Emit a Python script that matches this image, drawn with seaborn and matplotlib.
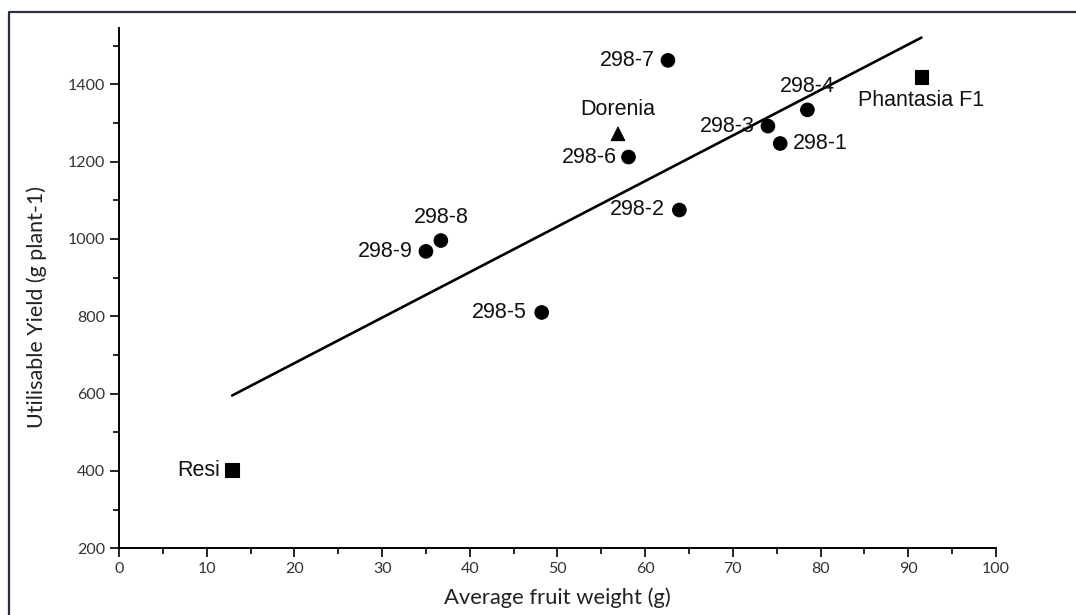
import numpy as np
import pandas as pd
import seaborn as sns
import matplotlib.pyplot as plt
from matplotlib.lines import Line2D

# values
genotypes = ['Resi', 'Phantasia F1', 'Dorenia', '298-1', '298-2', '298-3', '298-4',
             '298-5', '298-6', '298-7', '298-8', '298-9']
fruit_weight = [12.9, 91.5, 56.9, 75.4, 63.9, 74.0, 78.5, 48.2, 58.1, 62.6, 36.7, 35.0]
yield_g = [402, 1419, 1272, 1247, 1075, 1292, 1334, 810, 1212, 1462, 996, 968]
group = ['check', 'check', 'dorenia', 'line', 'line', 'line', 'line',
         'line', 'line', 'line', 'line', 'line']

df = pd.DataFrame({'genotype': genotypes, 'weight': fruit_weight,
                   'yield': yield_g, 'group': group})

# where each name sits relative to its marker (pixels)
label_pos = {
    'Resi': (-12, 0, 'right', 'center'),
    'Phantasia F1': (0, -23, 'center', 'center'),
    'Dorenia': (0, 24, 'center', 'center'),
    '298-1': (13, 0, 'left', 'center'),
    '298-2': (-14, 0, 'right', 'center'),
    '298-3': (-13, 0, 'right', 'center'),
    '298-4': (0, 23, 'center', 'center'),
    '298-5': (-15, 0, 'right', 'center'),
    '298-6': (-12, 0, 'right', 'center'),
    '298-7': (-13, 0, 'right', 'center'),
    '298-8': (0, 23, 'center', 'center'),
    '298-9': (-13, 0, 'right', 'center'),
}

sns.set_style('ticks')
plt.rcParams['font.family'] = ['Lato', 'DejaVu Sans']

fig = plt.figure(figsize=(10.76, 6.15), dpi=100)
ax = fig.add_axes([0.1106, 0.1085, 0.8150, 0.8455])

sns.regplot(data=df, x='weight', y='yield', scatter=False, ci=None, truncate=True,
            color='black', line_kws={'lw': 1.9}, ax=ax)
sns.scatterplot(data=df, x='weight', y='yield', style='group',
                markers={'line': 'o', 'dorenia': '^', 'check': 's'},
                color='black', s=95, edgecolor='black', legend=False, ax=ax)

for name, xv, yv in zip(genotypes, fruit_weight, yield_g):
    dx, dy, ha, va = label_pos[name]
    ax.annotate(name, (xv, yv), xytext=(dx * 0.72, dy * 0.72), textcoords='offset points',
                ha=ha, va=va, fontsize=15.5, family=['Liberation Sans', 'DejaVu Sans'],
                color='#111111')

ax.set_xlim(0, 100)
ax.set_ylim(200, 1545)
ax.set_xticks(np.arange(0, 101, 10))
ax.set_xticks(np.arange(5, 100, 10), minor=True)
ax.set_yticks(np.arange(200, 1401, 200))
ax.set_yticks(np.arange(300, 1501, 200), minor=True)

ax.set_xlabel('Average fruit weight (g)', fontsize=15.8, color='#222222')
ax.set_ylabel('Utilisable Yield (g plant-1)', fontsize=15.5, color='#222222')
ax.xaxis.set_label_coords(0.5, -0.075)
ax.yaxis.set_label_coords(-0.082, 0.464)

sns.despine(ax=ax)
for sp in ['left', 'bottom']:
    ax.spines[sp].set_linewidth(1.4)
    ax.spines[sp].set_color('black')
ax.tick_params(which='major', direction='out', length=6.5, width=1.2, labelsize=11.5,
               labelcolor='#333333', color='black')
ax.tick_params(which='minor', direction='out', length=4.5, width=1.2, color='black')

# outer frame of the original figure (cropped on the right and bottom)
fig.add_artist(Line2D([9 / 1076, 9 / 1076, 1.0], [0.0, 1 - 11.5 / 615, 1 - 11.5 / 615],
                      transform=fig.transFigure, color='#2b303b', lw=1.6))

fig.savefig('out.png', dpi=100)
